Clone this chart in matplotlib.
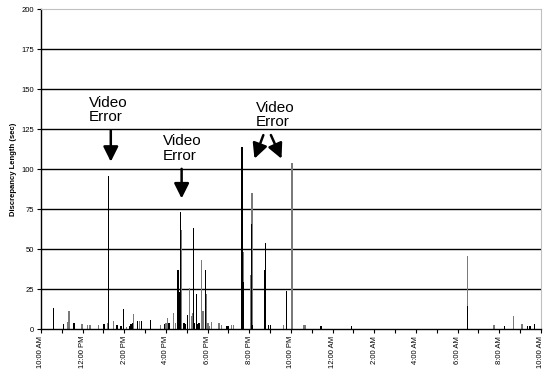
import matplotlib.pyplot as plt

plt.rcParams['font.family'] = ['Liberation Sans', 'DejaVu Sans']

# hours after 10:00 AM, discrepancy length (sec)
black_hours = [0.59, 1.09, 1.58, 3.02, 3.23, 3.65, 3.84, 3.95, 4.24, 4.32, 4.40, 4.64,
               4.82, 5.25, 5.94, 6.15, 6.56, 6.61, 6.66, 6.69, 6.87, 6.93, 7.02, 7.31,
               7.38, 7.45, 7.50, 7.59, 7.91, 8.91, 8.98, 9.65, 9.70, 10.10, 10.16, 10.72,
               10.77, 10.91, 11.02, 11.78, 13.44, 14.92, 20.47, 22.24, 23.35, 23.47, 23.70]
black_vals = [13.3, 3, 3.5, 3, 96, 2.5, 2, 12.5, 2, 3, 4, 5.2,
              5.2, 5.8, 3, 3.8, 36.7, 37, 23, 73.3, 4, 3, 9, 63,
              4, 22, 3, 4, 37, 2, 2, 114, 29.6, 65.8, 2.5, 36.7,
              54, 2.5, 2.5, 24, 2, 2, 14.6, 2, 2, 2, 3]

gray_hours = [1.28, 1.34, 1.97, 2.22, 2.35, 2.77, 3.18, 3.49, 4.11, 4.45, 4.72, 5.74,
              6.01, 6.08, 6.37, 6.45, 6.75, 7.12, 7.22, 7.26, 7.71, 7.78, 7.94, 8.02,
              8.08, 8.18, 8.55, 8.66, 9.14, 9.23, 9.71, 10.07, 10.13, 11.65, 12.05, 12.61,
              12.67, 20.47, 21.71, 21.78, 22.69, 23.09]
gray_vals = [4.4, 11, 3, 2.5, 2.5, 2.5, 4, 5, 1.5, 9.6, 5.2, 2.5,
             4, 6.7, 10, 3.5, 61.7, 25.4, 8, 10, 43, 11, 22, 4,
             2, 4.6, 4, 2.5, 2.5, 2.5, 48, 34, 85, 2.5, 104, 2.5,
             2.5, 46, 2.5, 2.5, 8.3, 3.3]

tick_labels = ['10:00 AM', '12:00 PM', '2:00 PM', '4:00 PM', '6:00 PM', '8:00 PM', '10:00 PM',
               '12:00 AM', '2:00 AM', '4:00 AM', '6:00 AM', '8:00 AM', '10:00 AM']

fig = plt.figure(figsize=(5.43, 3.74), dpi=100)
ax = fig.add_axes([0.0755, 0.1203, 0.9208, 0.8543])

for y in range(25, 200, 25):
    ax.axhline(y, color='black', lw=1, zorder=0)

ax.bar(gray_hours, gray_vals, width=0.07, color='#7a7a7a', zorder=2)
ax.bar(black_hours, black_vals, width=0.06, color='black', zorder=3)

ax.set_xlim(0, 24)
ax.set_ylim(0, 200)
ax.set_yticks(range(0, 201, 25))
ax.set_xticks(range(0, 25, 2))
ax.set_xticklabels(tick_labels, rotation=90)
ax.set_xticks(range(1, 24, 2), minor=True)
ax.tick_params(axis='both', which='both', labelsize=5.5, length=3, width=0.8, direction='out')
ax.tick_params(axis='y', pad=2)
ax.tick_params(axis='x', pad=2)
ax.set_ylabel('Discrepancy Length (sec)', fontsize=5.5, fontweight='bold', labelpad=3)

for side in ['top', 'right']:
    ax.spines[side].set_color('#c0c0c0')
    ax.spines[side].set_linewidth(0.8)
for side in ['left', 'bottom']:
    ax.spines[side].set_color('black')
    ax.spines[side].set_linewidth(1)

arrow = dict(arrowstyle='-|>,head_width=0.45,head_length=0.9', color='black', lw=1.8)

ax.text(2.3, 137, 'Video\nError', fontsize=11, va='center', ha='left', linespacing=1.05)
ax.annotate('', xy=(3.35, 103), xytext=(3.35, 126), arrowprops=arrow)

ax.text(5.85, 113, 'Video\nError', fontsize=11, va='center', ha='left', linespacing=1.05)
ax.annotate('', xy=(6.75, 80), xytext=(6.75, 102), arrowprops=arrow)

ax.text(10.3, 134, 'Video\nError', fontsize=11, va='center', ha='left', linespacing=1.05)
ax.annotate('', xy=(10.2, 105), xytext=(10.72, 123), arrowprops=arrow)
ax.annotate('', xy=(11.6, 105), xytext=(10.98, 123), arrowprops=arrow)

fig.savefig('out.png', dpi=100)
